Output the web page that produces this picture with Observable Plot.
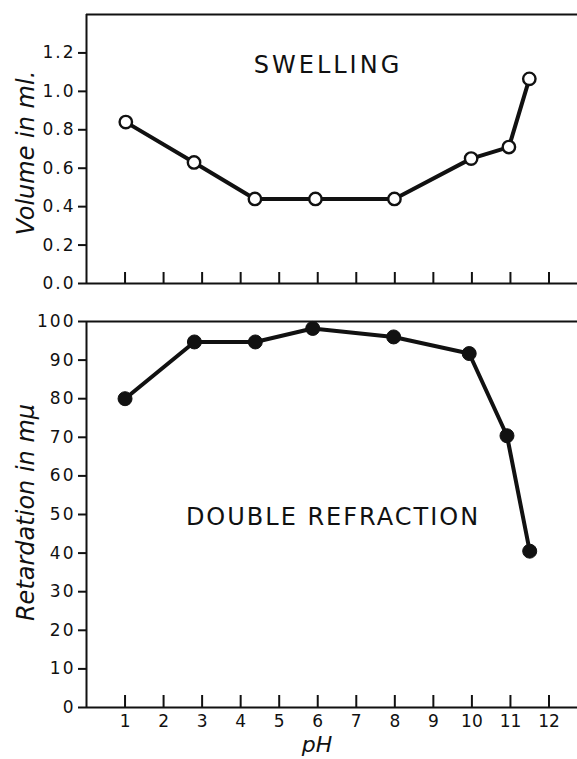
<!DOCTYPE html>
<html><head><meta charset="utf-8">
<script src="https://cdn.jsdelivr.net/npm/d3@7"></script>
<script src="https://cdn.jsdelivr.net/npm/@observablehq/plot@0.6"></script>
<style>
body{margin:0;background:#fff;}
#chart svg{display:block;}
g[aria-label="y-axis tick label"] text{letter-spacing:2px;}
</style></head><body><div id="chart"></div>
<script>
// ---- data ----
const swellingPH = [1.02, 2.79, 4.37, 5.94, 7.99, 9.98, 10.96, 11.49];
const swellingVolume = [0.84, 0.63, 0.44, 0.44, 0.44, 0.65, 0.71, 1.065];
const refractionPH = [1.0, 2.8, 4.38, 5.87, 7.97, 9.93, 10.91, 11.5];
const refractionRetardation = [80, 94.7, 94.7, 98.2, 96, 91.7, 70.4, 40.5];
const phTicks = [1, 2, 3, 4, 5, 6, 7, 8, 9, 10, 11, 12];
const volumeTicks = [0, 0.2, 0.4, 0.6, 0.8, 1.0, 1.2];
const retardationTicks = [0, 10, 20, 30, 40, 50, 60, 70, 80, 90, 100];
const xDomain = [0, 12.74];
const volumeDomain = [0, 1.4];
const retardationDomain = [0, 100];
const swellingTitle = "SWELLING";
const refractionTitle = "DOUBLE REFRACTION";
const volumeLabel = "Volume in ml.";
const retardationLabel = "Retardation in mμ";
const xLabel = "pH";

const swelling = swellingPH.map((ph, i) => ({ph, value: swellingVolume[i]}));
const refraction = refractionPH.map((ph, i) => ({ph, value: refractionRetardation[i]}));

const ink = "#111";
const font = "DejaVu Sans, sans-serif";
const W = 577;

function panel({data, yDomain, yTicks, yFormat, height, marginTop, marginBottom, title, titleDx, titleDy, ylabel, ylabelDy, filled, xAxis, tickLen}) {
  const inner = height - marginTop - marginBottom;
  const marks = [
    Plot.ruleY(yDomain, {stroke: ink, strokeWidth: 2}),
    Plot.ruleX([xDomain[0]], {stroke: ink, strokeWidth: 2}),
    Plot.tickX(phTicks, {x: d => d, stroke: ink, strokeWidth: 2, insetTop: inner - tickLen}),
    Plot.axisY({ticks: yTicks, tickFormat: yFormat, tickSize: 8, tickPadding: 3, label: null, strokeWidth: 2, fontSize: 17, stroke: ink, fill: ink}),
    Plot.text([ylabel], {frameAnchor: "left", dx: -60, dy: ylabelDy, rotate: -90, fontSize: 24, fontStyle: "italic", fill: ink, textAnchor: "middle", lineAnchor: "middle"}),
    Plot.text([title], {frameAnchor: "top", dx: titleDx, dy: titleDy, fontSize: 24, fill: ink, lineAnchor: "middle"}),
    Plot.line(data, {x: "ph", y: "value", stroke: ink, strokeWidth: 4}),
    Plot.dot(data, {x: "ph", y: "value", r: filled ? 7 : 6.2, fill: filled ? ink : "#fff", stroke: ink, strokeWidth: filled ? 1 : 2.4})
  ];
  if (xAxis) {
    marks.push(Plot.axisX({ticks: phTicks, tickSize: 0, tickPadding: 7, label: null, fontSize: 17, fill: ink}));
    marks.push(Plot.text([xLabel], {frameAnchor: "bottom", dx: -15, dy: 37, fontSize: 22, fontStyle: "italic", fill: ink, lineAnchor: "middle"}));
  }
  const svg = Plot.plot({
    width: W, height, marginLeft: 86, marginRight: 0, marginTop, marginBottom,
    style: {fontFamily: font, fontSize: "16px", color: ink, background: "#fff"},
    x: {domain: xDomain, axis: null},
    y: {domain: yDomain, axis: null},
    marks
  });
  d3.select(svg).selectAll("text").each(function() {
    const t = this.textContent;
    if (t === swellingTitle) this.setAttribute("letter-spacing", "3px");
    if (t === refractionTitle) this.setAttribute("letter-spacing", "2px");
  });
  return svg;
}

const chart = document.getElementById("chart");
chart.append(panel({
  data: swelling, yDomain: volumeDomain, yTicks: volumeTicks, yFormat: d => d.toFixed(1),
  height: 300, marginTop: 14, marginBottom: 17,
  title: swellingTitle, titleDx: -4, titleDy: 51,
  ylabel: volumeLabel, ylabelDy: 4, filled: false, xAxis: false, tickLen: 11
}));
chart.append(panel({
  data: refraction, yDomain: retardationDomain, yTicks: retardationTicks, yFormat: d => String(d),
  height: 459, marginTop: 21, marginBottom: 52,
  title: refractionTitle, titleDx: 1, titleDy: 196,
  ylabel: retardationLabel, ylabelDy: -2, filled: true, xAxis: true, tickLen: 12
}));
</script></body></html>
